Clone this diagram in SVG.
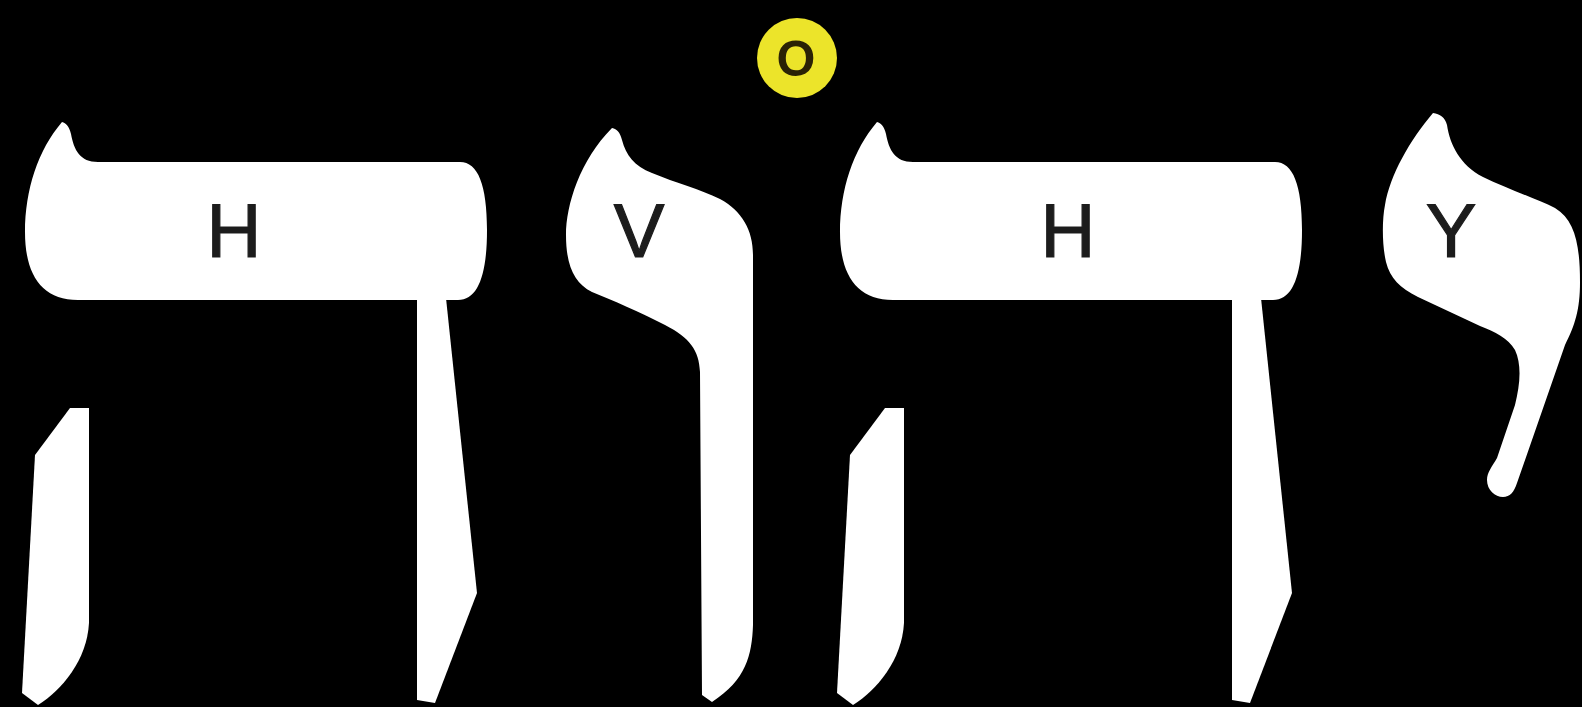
<svg xmlns="http://www.w3.org/2000/svg" width="1582" height="707" viewBox="0 0 1582 707">
  <defs>
    <style>
      .glyph { fill: #ffffff; }
      .lbl { font-family: "Liberation Sans", Arial, sans-serif; font-size: 76px; fill: #1c1c1c; stroke: #1c1c1c; stroke-width: 1.2px; text-anchor: middle; }
      .dot { fill: #ece42a; }
      .dotlbl { font-family: "Liberation Sans", Arial, sans-serif; font-size: 50px; font-weight: bold; fill: #2a2205; text-anchor: middle; }
    </style>
    <g id="he-shape">
      <path d="M62,122 C66,123 69,126 71,134 C74,150 80,162 98,162 L460,162 C478,162 487,185 487,230 C487,275 478,300 458,300 L78,300 C42,300 25,275 25,232 C25,190 38,150 62,122 Z"/>
      <path d="M417,298 L446,298 L477,593 L435,703 L417,700 Z"/>
      <path d="M70,408 L89,408 L89,623 C87,660 62,690 38,705 L22,693 L35,455 Z"/>
    </g>
  </defs>
  <rect x="0" y="0" width="1582" height="707" fill="#000000"/>

  <g id="he-left" class="glyph">
    <use href="#he-shape"/>
    <text class="lbl" x="234" y="257">H</text>
  </g>

  <g id="vav" class="glyph">
    <path d="M612,128 C617,129 620,132 622,140 C626,155 634,166 652,173 C676,183 700,189 720,199 C742,211 753,230 753,255 L753,625 C752,655 746,680 712,702 L702,695 L700,372 C699,350 690,338 665,325 C640,312 612,300 592,292 C574,283 566,265 566,235 C566,205 580,160 612,128 Z"/>
    <text class="lbl" x="639" y="257">V</text>
  </g>

  <g id="he-right" class="glyph">
    <use href="#he-shape" transform="translate(815,0)"/>
    <text class="lbl" x="1068" y="257">H</text>
  </g>

  <g id="yod" class="glyph">
    <path d="M1433,113 C1440,114 1445,117 1447,125 C1450,145 1460,165 1483,177 C1505,188 1535,198 1555,208 C1575,220 1580,245 1580,282 C1580,310 1575,325 1565,345 L1517,483 C1514,492 1510,497 1503,497 C1495,497 1487,490 1487,480 C1487,472 1492,467 1497,458 L1515,405 C1520,385 1522,365 1515,350 C1508,338 1495,332 1480,326 L1418,297 C1400,288 1390,278 1386,262 C1382,245 1382,220 1385,205 C1390,175 1410,140 1433,113 Z"/>
    <text class="lbl" x="1451" y="257">Y</text>
  </g>

  <g id="dot-o">
    <circle class="dot" cx="797" cy="58" r="40"/>
    <text class="dotlbl" x="796" y="76">O</text>
  </g>
</svg>
